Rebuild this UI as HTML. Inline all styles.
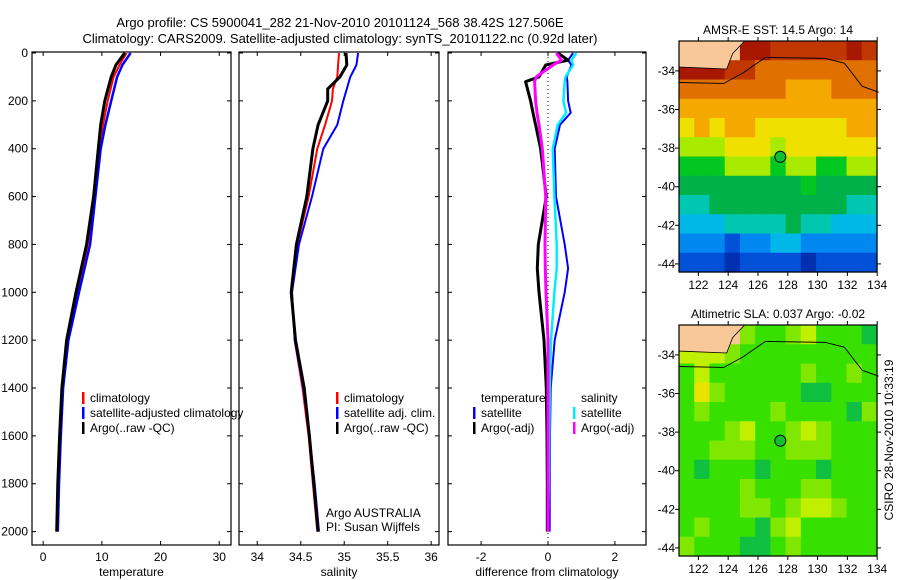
<!DOCTYPE html>
<html><head><meta charset="utf-8"><style>
body{margin:0;background:#fff}
svg{display:block;font-family:"Liberation Sans",sans-serif;font-size:12px}
</style></head><body>
<svg id="fig" width="900" height="580" xmlns="http://www.w3.org/2000/svg">
<text x="340" y="27" text-anchor="middle" font-size="13">Argo profile: CS 5900041_282 21-Nov-2010 20101124_568 38.42S 127.506E</text>
<text x="340" y="43" text-anchor="middle" font-size="13">Climatology: CARS2009. Satellite-adjusted climatology: synTS_20101122.nc (0.92d later)</text>
<g id="p1"></g>
<g id="p2"></g>
<g id="p3"></g>
<g id="m1"></g>
<g id="m2"></g>
<text transform="translate(893,440) rotate(-90)" text-anchor="middle">CSIRO 28-Nov-2010 10:33:19</text>
</svg>
<script>
// ---- data ----
const depthT = [0,50,100,200,300,400,600,800,1000,1200,1400,1600,1800,2000];
const tempClim = [14.2,13.0,12.0,11.0,10.2,9.6,8.7,7.6,5.8,4.1,3.3,2.9,2.6,2.4];
const tempSat  = [14.9,13.5,12.6,11.6,10.6,9.8,8.9,8.0,6.1,4.3,3.4,3.0,2.7,2.5];
const tempArgo = [13.9,12.4,11.6,10.5,9.8,9.4,8.6,7.4,5.6,4.0,3.2,2.8,2.5,2.3];
const depthS = [0,50,100,150,200,300,400,600,800,1000,1200,1400,1600,1800,2000];
const salClim = [34.94,34.93,34.92,34.87,34.86,34.78,34.69,34.59,34.46,34.40,34.43,34.52,34.59,34.64,34.69];
const salSat  = [35.16,35.14,35.07,35.03,34.99,34.92,34.76,34.63,34.48,34.40,34.43,34.53,34.60,34.66,34.71];
const salArgo = [35.02,35.03,34.95,34.81,34.81,34.70,34.64,34.57,34.45,34.39,34.44,34.54,34.60,34.65,34.70];
const depthD = [0,30,50,100,120,200,250,300,400,600,800,900,1000,1200,1400,1600,1800,2000];
const dTsat  = [0.75,0.6,0.7,0.56,0.58,0.6,0.68,0.36,0.2,0.24,0.5,0.6,0.5,0.2,0.08,0.06,0.05,0.05];
const dTargo = [0.3,0.6,-0.07,-0.27,-0.67,-0.52,-0.45,-0.37,-0.22,-0.05,-0.29,-0.32,-0.27,-0.12,-0.05,-0.03,-0.02,-0.02];
const dSsat  = [0.85,0.7,0.75,0.52,0.5,0.46,0.54,0.29,0.14,0.19,0.26,0.26,0.19,0.09,0.05,0.04,0.02,0.0];
const dSargo = [0.25,0.4,0.15,-0.35,-0.4,-0.37,-0.33,-0.27,-0.17,-0.07,-0.09,-0.08,-0.06,0.0,0.0,0.0,0.0,0.0];
const depthTicks = [0,200,400,600,800,1000,1200,1400,1600,1800,2000];
const tempTicks = [0,10,20,30];
const salTicks = [34,34.5,35,35.5,36];
const diffTicks = [-2,0,2];
const lonTicks = [122,124,126,128,130,132,134];
const latTicks = [-34,-36,-38,-40,-42,-44];
// SST map grid (1 degree cells, 121..134E, -32.45..-44.45), -1 = land
const sstGrid = [
[-1,-1,-1,-1,12,12,11,11,11,11,11,12,11],
[12,12,12,11,11,10,10,10,10,10,10,10,10],
[10,10,10,10,10,10,10,9,9,9,10,10,10],
[9,9,9,9,9,9,9,9,9,9,9,9,9],
[8,9,8,9,9,8,8,8,8,8,8,9,9],
[7,7,7,8,8,8,7,8,8,8,8,8,8],
[6,6,6,7,7,7,6,7,7,6,6,7,7],
[5,5,5,5,5,5,5,5,6,5,5,5,5],
[4,4,5,5,5,5,5,5,5,5,5,4,4],
[3,3,3,4,4,4,4,5,4,4,3,3,3],
[2,2,2,1,2,2,3,3,2,2,2,2,2],
[1,1,1,0,1,1,1,1,0,1,1,1,1]];
const slaGrid = [
[-1,-1,-1,-1,2,1,1,2,3,1,1,1,0],
[3,3,3,2,1,1,1,1,1,1,1,1,1],
[1,3,1,1,1,1,1,1,2,1,1,2,1],
[1,4,2,1,1,1,1,1,0,0,1,1,1],
[1,2,1,1,1,1,2,1,1,1,1,0,2],
[1,1,1,2,3,1,1,2,3,2,1,1,1],
[1,1,2,2,2,1,1,2,2,2,1,1,1],
[1,0,1,1,1,0,1,1,1,0,1,1,1],
[1,1,1,1,2,1,1,1,2,2,1,1,1],
[1,1,1,1,2,2,1,2,3,3,2,1,1],
[1,2,1,1,1,0,2,3,1,1,1,1,1],
[2,1,1,1,0,0,1,2,1,1,1,1,1]];
const argoLon = 127.5, argoLat = -38.45;

const NS='http://www.w3.org/2000/svg';
function mk(parent,tag,attrs,text){const e=document.createElementNS(NS,tag);for(const k in attrs)e.setAttribute(k,attrs[k]);if(text!==undefined)e.textContent=text;parent.appendChild(e);return e;}
const yD = d => 53 + d*0.2393;

function panel(g,x0,x1,xmin,xmax,ticks,label,showY){
  const sx = v => x0 + (v-xmin)/(xmax-xmin)*(x1-x0);
  const f = mk(g,'rect',{x:x0,y:52,width:x1-x0,height:493,fill:'none',stroke:'#000','stroke-width':1.2});
  
  
  depthTicks.forEach(d=>{
    mk(g,'line',{x1:x0,x2:x0+4,y1:yD(d),y2:yD(d),stroke:'#000'});
    mk(g,'line',{x1:x1-4,x2:x1,y1:yD(d),y2:yD(d),stroke:'#000'});
    if(showY){const t=mk(g,'text',{x:x0-4,y:yD(d)+4,'text-anchor':'end'},d);
      
      }
  });
  ticks.forEach(v=>{
    mk(g,'line',{x1:sx(v),x2:sx(v),y1:545,y2:541,stroke:'#000'});
    mk(g,'line',{x1:sx(v),x2:sx(v),y1:52,y2:56,stroke:'#000'});
    const t=mk(g,'text',{x:sx(v),y:561,'text-anchor':'middle'},v);
    
    
  });
  const xl=mk(g,'text',{x:(x0+x1)/2,y:576,'text-anchor':'middle'},label);
  
  
  return sx;
}
function line(g,sx,depths,vals,color,w,name){
  const p=mk(g,'polyline',{points:vals.map((v,i)=>sx(v).toFixed(1)+','+yD(depths[i]).toFixed(1)).join(' '),fill:'none',stroke:color,'stroke-width':w,'stroke-linejoin':'round'});
  
  
}
function legend(g,x,y,items){
  items.forEach((it,i)=>{
    if(it[1]) mk(g,'rect',{x:x,y:y+i*15-10,width:2.5,height:12,fill:it[1]});
    const t=mk(g,'text',{x:x+8,y:y+i*15},it[0]);
    
    
  });
}
// Panel 1
const p1=document.getElementById('p1');
const sx1=panel(p1,32,231,-1.9,32,tempTicks,'temperature',true);
line(p1,sx1,depthT,tempClim,'#f00',2,'temp-climatology-line');
line(p1,sx1,depthT,tempSat,'#00f',2.5,'temp-satellite-line');
line(p1,sx1,depthT,tempArgo,'#000',3,'temp-argo-line');
legend(p1,82,402,[['climatology','#f00'],['satellite-adjusted climatology','#00f'],['Argo(..raw -QC)','#000']]);
// Panel 2
const p2=document.getElementById('p2');
const sx2=panel(p2,239,439,33.79,36.09,salTicks,'salinity',false);
line(p2,sx2,depthS,salClim,'#f00',2,'sal-climatology-line');
line(p2,sx2,depthS,salSat,'#00f',2,'sal-satellite-line');
line(p2,sx2,depthS,salArgo,'#000',3,'sal-argo-line');
legend(p2,336,402,[['climatology','#f00'],['satellite adj. clim.','#00f'],['Argo(..raw -QC)','#000']]);
const a1=mk(p2,'text',{x:326,y:517},'Argo AUSTRALIA');


const a2=mk(p2,'text',{x:326,y:531},'PI: Susan Wijffels');


// Panel 3
const p3=document.getElementById('p3');
const sx3=panel(p3,448,646,-2.99,2.93,diffTicks,'difference from climatology',false);
mk(p3,'line',{x1:sx3(0),x2:sx3(0),y1:53,y2:545,stroke:'#000','stroke-dasharray':'1,3'});
line(p3,sx3,depthD,dTsat,'#00f',2,'diff-temp-satellite-line');
line(p3,sx3,depthD,dSsat,'#0ef',2.5,'diff-sal-satellite-line');
line(p3,sx3,depthD,dTargo,'#000',3,'diff-temp-argo-line');
line(p3,sx3,depthD,dSargo,'#f0f',3,'diff-sal-argo-line');
legend(p3,473,402,[['temperature',null],['satellite','#00f'],['Argo(-adj)','#000']]);
legend(p3,573,402,[['salinity',null],['satellite','#0ef'],['Argo(-adj)','#f0f']]);

// Maps
const sstColors=['#0030b0','#0050d8','#0088f0','#00b8e8','#00c8b0','#00b048','#00c820','#a8ea00','#f0e000','#f4a800','#e07000','#c03800','#a81800'];
const slaColors=['#10c040','#38e000','#80e800','#c0f000','#e8e400'];
function map(g,top,grid,colors,title,name){
  const x0=679,x1=877,bottom=top+231;
  const sx=lon=>x0+(lon-120.7)*14.9;
  const sy=lat=>top+(-32.45-lat)*19.3;
  const t=mk(g,'text',{x:778,y:top-7,'text-anchor':'middle'},title);
  
  
  const cw=(x1-x0)/13, ch=(bottom-top)/12;
  grid.forEach((row,r)=>row.forEach((v,c)=>{
    const cell=mk(g,'rect',{x:x0+c*cw,y:top+r*ch,width:cw+0.6,height:ch+0.6,fill:v<0?'#f8c898':colors[v]});
    
    
  }));
  const land=mk(g,'polygon',{points:[[120.7,-32.45],[125.1,-32.45],[124.3,-33.1],[123.9,-33.9],[120.7,-33.8]].map(p=>sx(p[0])+','+sy(p[1])).join(' '),fill:'#f8c898',stroke:'#000','stroke-width':0.8});
  
  
  const c=mk(g,'polyline',{points:[[120.7,-34.6],[123.7,-34.65],[125,-34.1],[126.5,-33.3],[130.5,-33.35],[131.8,-33.6],[133,-34.8],[134.1,-35.1]].map(p=>sx(p[0])+','+sy(p[1])).join(' '),fill:'none',stroke:'#000','stroke-width':0.9});
  
  
  const ci=mk(g,'circle',{cx:sx(argoLon),cy:sy(argoLat),r:5.5,fill:'#10c030',stroke:'#000','stroke-width':1});
  
  
  mk(g,'rect',{x:x0,y:top,width:x1-x0,height:bottom-top,fill:'none',stroke:'#000','stroke-width':1.2});
  lonTicks.forEach(l=>{
    mk(g,'line',{x1:sx(l),x2:sx(l),y1:bottom,y2:bottom+4,stroke:'#000'});
    mk(g,'line',{x1:sx(l),x2:sx(l),y1:top,y2:top-4,stroke:'#000'});
    const tt=mk(g,'text',{x:sx(l),y:bottom+17,'text-anchor':'middle'},l);
    
    
  });
  latTicks.forEach(l=>{
    mk(g,'line',{x1:x0-4,x2:x0,y1:sy(l),y2:sy(l),stroke:'#000'});
    mk(g,'line',{x1:x1,x2:x1+4,y1:sy(l),y2:sy(l),stroke:'#000'});
    const tt=mk(g,'text',{x:x0-4,y:sy(l)+4,'text-anchor':'end'},l);
    
    
  });
}
map(document.getElementById('m1'),41,sstGrid,sstColors,'AMSR-E SST: 14.5 Argo: 14','sst-map');
map(document.getElementById('m2'),325,slaGrid,slaColors,'Altimetric SLA: 0.037 Argo: -0.02','sla-map');
</script>
</body></html>
